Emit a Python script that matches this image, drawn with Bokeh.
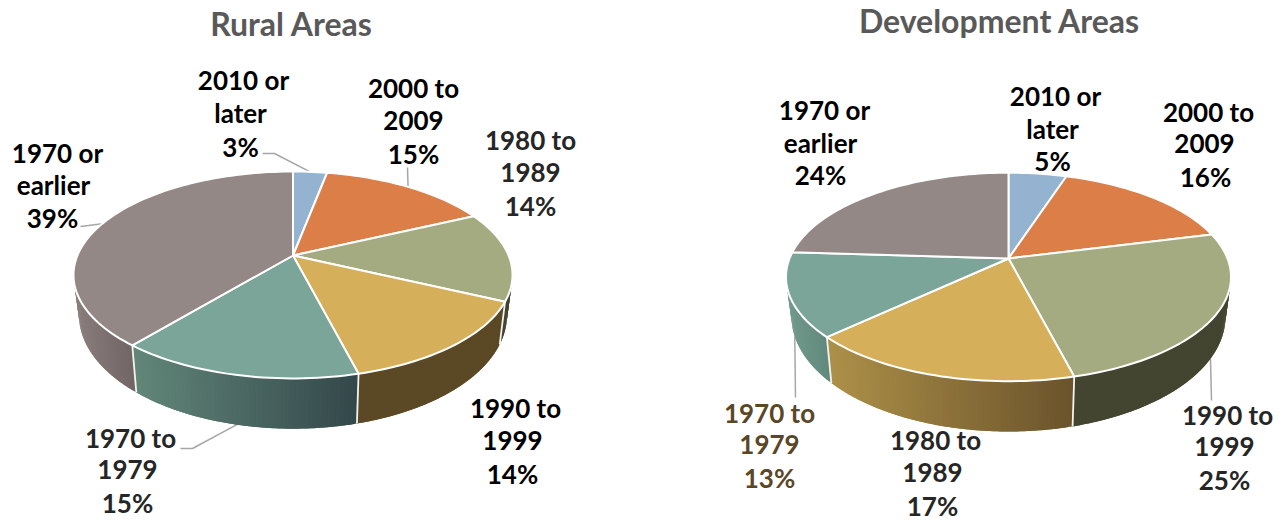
import math
from bokeh.plotting import figure
from bokeh.models import ColumnDataSource
from bokeh.core.properties import value
from bokeh.embed import file_html
from bokeh.resources import INLINE

# ---- data ----
rural_title = "Rural Areas"
dev_title = "Development Areas"
rural_labels = ["2010 or later", "2000 to 2009", "1980 to 1989", "1990 to 1999", "1970 to 1979", "1970 or earlier"]
rural_values = [3, 15, 14, 14, 15, 39]
dev_labels = ["2010 or later", "2000 to 2009", "1990 to 1999", "1980 to 1989", "1970 to 1979", "1970 or earlier"]
dev_values = [5, 16, 25, 17, 13, 24]
slice_colors = ["#93B3D0", "#DB7E48", "#A5AB80", "#D5AF5A", "#7AA598", "#938886"]

# ---- style / layout ----
rural_side = [None, None, ("#3f4230", "#3f4230"), ("#5b4825", "#5b4825"), ("#628779", "#33474a"), ("#897e7c", "#6f6463")]
dev_side = [None, None, ("#434530", "#434530"), ("#ad9048", "#6a532b"), ("#72998c", "#5f887a"), ("#897e7c", "#6f6463")]
rural_geom = dict(cx=292.5, cy=255, a=215.6, b=99.8, k=0.188)
dev_geom = dict(cx=1008, cy=258, a=219, b=101, k=0.177)
FONT = "Lato"
SIZE = "26px"
INK = "#000000"
TEXT_DY = -2
rural_pos = [
    [(243, 81), (240, 114), (240, 148)],
    [(413, 89), (413, 122), (413, 155)],
    [(530, 141), (530, 174), (530, 207)],
    [(515, 409), (512, 442), (512, 475)],
    [(130, 439), (127, 471), (127, 504)],
    [(57, 154), (53, 186), (52, 219)],
]
dev_pos = [
    [(1055, 97), (1052, 130), (1052, 162)],
    [(1208, 113), (1204, 145), (1205, 178)],
    [(1227, 416), (1224, 448), (1224, 481)],
    [(935, 441), (932, 474), (932, 507)],
    [(769, 414), (769, 446), (769, 479)],
    [(824, 111), (820, 144), (820, 176)],
]
rural_line_breaks = [("2010 or", "later"), ("2000 to", "2009"), ("1980 to", "1989"), ("1990 to", "1999"), ("1970 to", "1979"), ("1970 or", "earlier")]
dev_line_breaks = [("2010 or", "later"), ("2000 to", "2009"), ("1990 to", "1999"), ("1980 to", "1989"), ("1970 to", "1979"), ("1970 or", "earlier")]
rural_leaders = [(0, [(262, 153), (274, 153)], "top"), (1, [(407, 167)], "top"),
                 (5, [(80, 226)], "top"), (4, [(180, 448), (192, 448)], "bottom")]
dev_leaders = [(2, [(1211, 400)], "bottom"), (4, [(795, 397)], "bottom")]


def hex2rgb(c):
    return tuple(int(c[i:i + 2], 16) for i in (1, 3, 5))


def mix(c1, c2, t):
    a, b = hex2rgb(c1), hex2rgb(c2)
    return "#%02x%02x%02x" % tuple(round(a[i] + (b[i] - a[i]) * t) for i in range(3))


def top_pt(g, deg):
    th = math.radians(deg)
    u, v = math.sin(th), math.cos(th)
    w = 1 + g["k"] * v
    return g["cx"] + g["a"] * u / w, g["cy"] - g["b"] * v / w


def bot_pt(g, deg):
    th = math.radians(deg)
    u, v = math.sin(th), math.cos(th)
    w = 1 + g["k"] * v
    return g["cx"] + 0.975 * g["a"] * u / w, g["cy"] + 38 - 1.1 * g["b"] * v / w


p = figure(width=1283, height=520, x_range=(0, 1283), y_range=(520, 0),
           output_backend="svg", toolbar_location=None, min_border=0,
           outline_line_color=None, background_fill_color="white")
p.axis.visible = False
p.grid.visible = False


def draw_pie(values, side, g):
    total = sum(values)
    edges = [0]
    for val in values:
        edges.append(edges[-1] + val / total * 360)
    for i, grad in enumerate(side):
        if grad is None:
            continue
        a0, a1 = max(edges[i], 60), min(edges[i + 1], 300)
        if a1 <= a0:
            continue
        n = max(2, int((a1 - a0) / 1.0))
        angs = [a0 + (a1 - a0) * j / n for j in range(n + 1)]
        xs_all = [top_pt(g, d)[0] for d in angs] + [bot_pt(g, d)[0] for d in angs]
        xmin, xmax = min(xs_all), max(xs_all)
        # overlapping strips, each painted over the last, so no seams show
        for j, (d0, d1) in enumerate(zip(angs[:-1], angs[1:])):
            d2 = a1 if j == n - 1 else min(a1, d1 + (a1 - a0) / n)
            arc = [d0 + (d2 - d0) * m / 3 for m in range(4)]
            t_pts = [top_pt(g, d) for d in arc]
            b_pts = [bot_pt(g, d) for d in reversed(arc)]
            pts = t_pts + b_pts
            t = ((top_pt(g, d0)[0] + top_pt(g, d1)[0]) / 2 - xmin) / (xmax - xmin)
            col = mix(grad[0], grad[1], t)
            p.patch([q[0] for q in pts], [q[1] for q in pts], fill_color=col, line_color=None)
    for d in edges[1:-1]:
        if 95 < d < 265:
            t0, b0 = top_pt(g, d), bot_pt(g, d)
            p.line([t0[0], b0[0]], [t0[1], b0[1]], line_color="#f2f2f2", line_width=1.8)
    for i, col in enumerate(slice_colors):
        n = max(3, int((edges[i + 1] - edges[i]) / 1.5))
        angs = [edges[i] + (edges[i + 1] - edges[i]) * j / n for j in range(n + 1)]
        pts = [top_pt(g, d) for d in angs]
        xs = [g["cx"]] + [q[0] for q in pts]
        ys = [g["cy"]] + [q[1] for q in pts]
        p.patch(xs, ys, fill_color=col, line_color="white", line_width=2, line_join="round")
    return edges


def draw_labels(values, breaks, pos, colors):
    xs, ys, txt, cols = [], [], [], []
    for val, br, pp, c in zip(values, breaks, pos, colors):
        for line, (x, y) in zip([br[0], br[1], f"{val}%"], pp):
            xs.append(x)
            ys.append(y + TEXT_DY)
            txt.append(line)
            cols.append(c)
    src = ColumnDataSource(dict(x=xs, y=ys, t=txt, c=cols))
    p.text("x", "y", text="t", source=src, text_color="c", text_font=value(FONT),
           text_font_style="bold", text_font_size=SIZE, text_align="center", text_baseline="middle")


def draw_leaders(values, leaders, g):
    total = sum(values)
    edges = [0]
    for val in values:
        edges.append(edges[-1] + val / total * 360)
    for idx, elbow, kind in leaders:
        mid = (edges[idx] + edges[idx + 1]) / 2
        end = top_pt(g, mid) if kind == "top" else bot_pt(g, mid)
        pts = elbow + [end]
        p.line([q[0] for q in pts], [q[1] for q in pts], line_color="#a6a6a6", line_width=1.5)


draw_leaders(rural_values, rural_leaders, rural_geom)
draw_leaders(dev_values, dev_leaders, dev_geom)
draw_pie(rural_values, rural_side, rural_geom)
draw_pie(dev_values, dev_side, dev_geom)

draw_labels(rural_values, rural_line_breaks, rural_pos, [INK, INK, "#262626", INK, "#262626", INK])
draw_labels(dev_values, dev_line_breaks, dev_pos, [INK, INK, "#262626", "#262626", "#5a4726", INK])

p.text([291], [25 + TEXT_DY], text=[rural_title], text_color="#595959", text_font=value(FONT), text_font_style="bold",
       text_font_size="32px", text_align="center", text_baseline="middle")
p.text([999], [22 + TEXT_DY], text=[dev_title], text_color="#595959", text_font=value(FONT), text_font_style="bold",
       text_font_size="32px", text_align="center", text_baseline="middle")

open("out.html", "w").write(file_html(p, INLINE))
